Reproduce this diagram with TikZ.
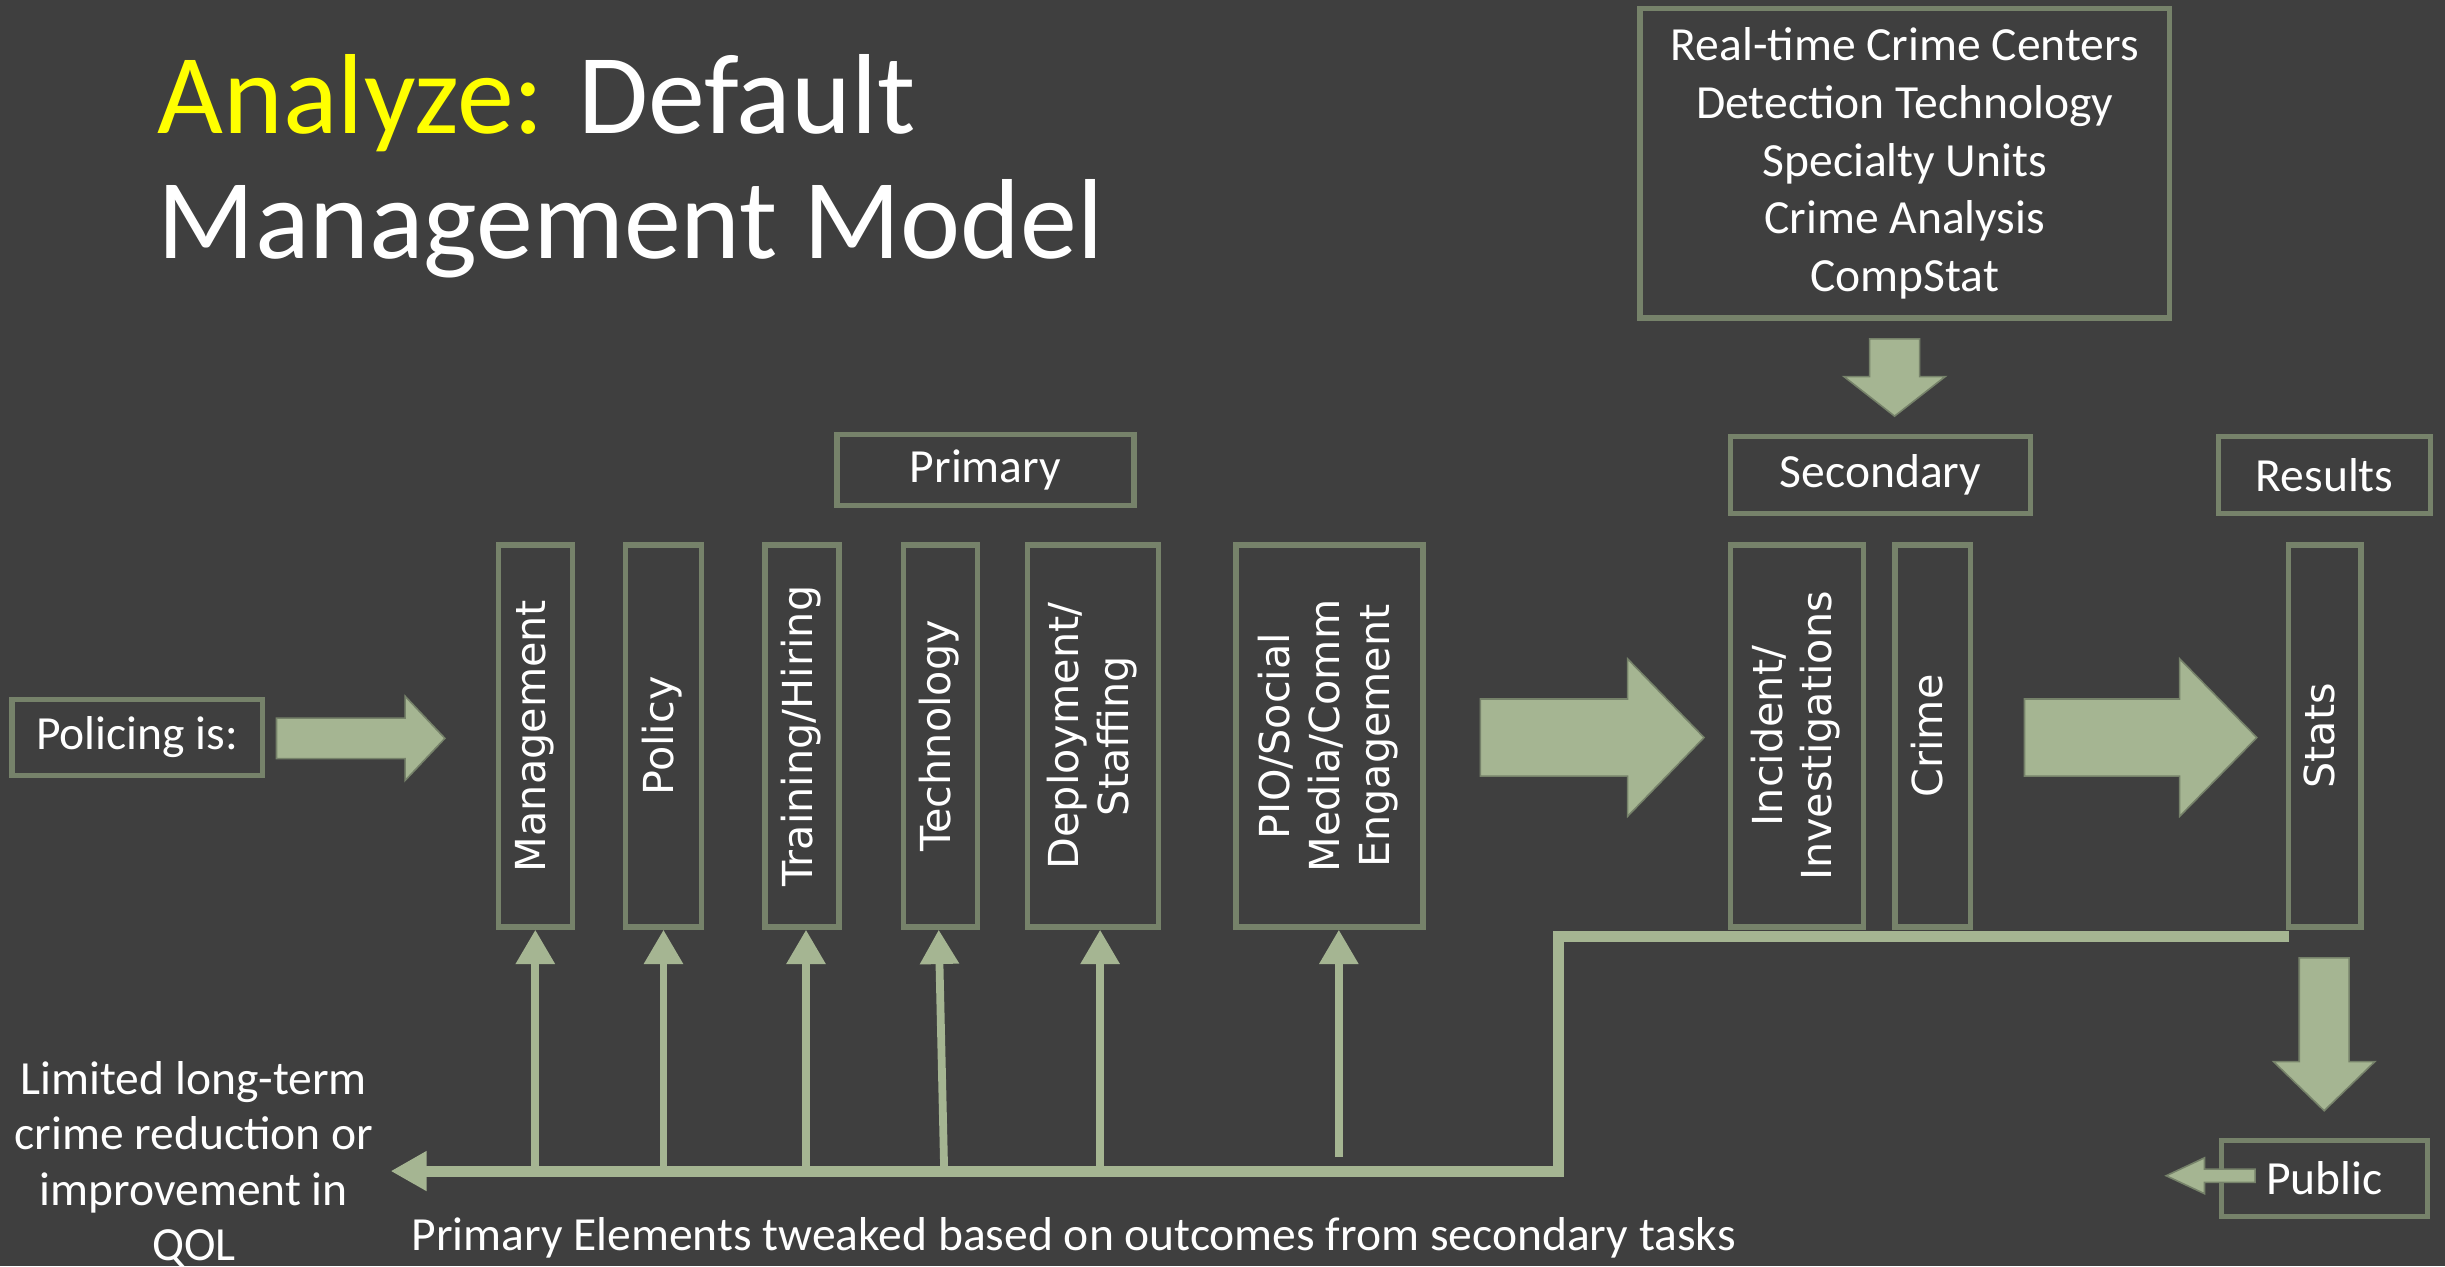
\documentclass[tikz,border=0pt]{standalone}
\usepackage{fontspec}
\setmainfont{Carlito}
\newfontfamily\vfont{DejaVu Sans}
\usetikzlibrary{arrows.meta,shapes.arrows}
\definecolor{slide}{HTML}{3F3F3F}
\definecolor{boxline}{HTML}{76826A}
\definecolor{arrowfill}{HTML}{A5B592}
\definecolor{titleyellow}{HTML}{FFFF00}
\newcommand{\vtext}[1]{\rotatebox{90}{\begin{tabular}{@{}c@{}}#1\end{tabular}}}
\begin{document}
\begin{tikzpicture}[x=1pt,y=-1pt,
    box/.style={draw=boxline,line width=3.5pt,text=white,inner sep=0pt,align=center,font=\fontsize{30.5}{37}\selectfont},
    vbox/.style={box,minimum height=245,font=\vfont\fontsize{26.5}{32}\selectfont},
    txt/.style={text=white,inner sep=0pt,font=\fontsize{30.5}{35.5}\selectfont},
    fat/.style={single arrow,fill=arrowfill,draw=boxline,line width=1pt,inner xsep=0pt,single arrow head indent=0pt,anchor=tip},
    feedback/.style={draw=arrowfill,line width=7pt},
    uparrow/.style={draw=arrowfill,line width=5pt,-{Triangle[width=24pt,length=22pt]}}]
  \fill[slide] (0,0) rectangle (1568,812);
  \useasboundingbox (0,0) rectangle (1568,812);
  \node[anchor=base west,align=left,text=white,inner sep=0pt,font=\fontsize{73}{80}\selectfont] (title) at (101,165.7) {\textcolor{titleyellow}{Analyze:} Default\\Management Model};
  \node[box,minimum width=339.5,minimum height=198.4] (tools) at (1221.5,104.75) {Real-time Crime Centers\\Detection Technology\\Specialty Units\\Crime Analysis\\CompStat};
  \node[box,minimum width=190.5,minimum height=45.5] (primary) at (632,301.5) {Primary};
  \node[box,minimum width=192.5,minimum height=49.5] (secondary) at (1206,304.5) {Secondary};
  \node[box,minimum width=136,minimum height=49.5] (results) at (1490.8,304.5) {Results};
  \node[box,minimum width=160.5,minimum height=48.5] (policing) at (88,473) {Policing is:};
  \node[vbox,minimum width=47.5] (mgmt) at (343.3,472) {\vtext{Management}};
  \node[vbox,minimum width=48.5] (policy) at (425.5,472) {\vtext{Policy}};
  \node[vbox,minimum width=47.5] (train) at (514.4,472) {\vtext{Training/Hiring}};
  \node[vbox,minimum width=47.5] (tech) at (603,472) {\vtext{Technology}};
  \node[vbox,minimum width=84] (deploy) at (701,472) {\vtext{Deployment/\\Staffing}};
  \node[vbox,minimum width=120] (pio) at (852.6,472) {\vtext{PIO/Social\\Media/Comm\\Engagement}};
  \node[vbox,minimum width=85.5] (incid) at (1152.4,472) {\vtext{Incident/\\Investigations}};
  \node[vbox,minimum width=48.5] (crime) at (1239.4,472) {\vtext{Crime}};
  \node[vbox,minimum width=46.5] (stats) at (1491,472) {\vtext{Stats}};
  \node[box,minimum width=132,minimum height=48.7] (public) at (1490.7,755.7) {Public};
  \node[txt,align=center,anchor=north] (limited) at (124.3,680.5) {Limited long-term\\crime reduction or\\improvement in\\QOL};
  \node[txt,anchor=base west] (tweak) at (263.7,801.7) {Primary Elements tweaked based on outcomes from secondary tasks};
  \node[fat,minimum height=108,inner ysep=12.5,single arrow head extend=14,single arrow tip angle=93.3] (arrIn) at (286,473.5) {};
  \node[fat,minimum height=143.5,inner ysep=24.25,single arrow head extend=25.75,single arrow tip angle=91.7] (arrSec) at (1093.5,473) {};
  \node[fat,minimum height=149,inner ysep=24.25,single arrow head extend=25.75,single arrow tip angle=91.2] (arrRes) at (1448,473) {};
  \node[fat,rotate=-90,minimum height=49.5,inner ysep=15.5,single arrow head extend=16.5,single arrow tip angle=104] (arrTools) at (1215,267.5) {};
  \node[fat,rotate=-90,minimum height=98,inner ysep=15.5,single arrow head extend=16.5,single arrow tip angle=91.8] (arrStats) at (1490.5,713) {};
  \node[fat,rotate=180,minimum height=57,inner ysep=3.75,single arrow head extend=7.25,single arrow tip angle=50.2] (arrPublic) at (1388,754) {};
  \coordinate (fbturn) at (999.5,751);
  \coordinate (fbstart) at ([xshift=2pt,yshift=-4.5pt]stats.south west);
  \coordinate (pioarr) at ([xshift=6pt]pio.south |- fbturn);
  \draw[feedback,-{Triangle[width=24pt,length=23pt]}] (fbstart) -| (fbturn) -- ([xshift=11pt]limited.east |- fbturn);
  \draw[uparrow] (mgmt.south |- fbturn) -- (mgmt.south);
  \draw[uparrow] (policy.south |- fbturn) -- (policy.south);
  \draw[uparrow] ([xshift=2.5pt]train.south |- fbturn) -- ([xshift=2.5pt]train.south);
  \draw[uparrow] ([xshift=2.5pt]tech.south |- fbturn) -- ([xshift=-1pt]tech.south);
  \draw[uparrow] ([xshift=4.5pt]deploy.south |- fbturn) -- ([xshift=4.5pt]deploy.south);
  \draw[uparrow] ([yshift=9pt]pioarr) -- ([xshift=6pt]pio.south);
\end{tikzpicture}
\end{document}
